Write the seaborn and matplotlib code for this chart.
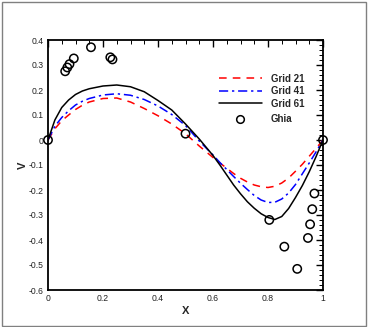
import numpy as np
import pandas as pd
import matplotlib
matplotlib.use("Agg")
import matplotlib.pyplot as plt
from matplotlib.ticker import MultipleLocator, FuncFormatter
from matplotlib.lines import Line2D
from matplotlib.patches import Rectangle
import seaborn as sns

# ---- data ----
x_grid = [0.0, 0.025, 0.05, 0.075, 0.1, 0.125, 0.15, 0.2, 0.25, 0.3, 0.35, 0.4, 0.45,
          0.5, 0.55, 0.6, 0.625, 0.65, 0.675, 0.7, 0.725, 0.75, 0.775, 0.8, 0.825,
          0.85, 0.875, 0.9, 0.925, 0.95, 0.975, 1.0]
v_grid21 = [0.0, 0.045, 0.077, 0.100, 0.122, 0.139, 0.152, 0.166, 0.168, 0.152, 0.126, 0.097,
            0.064, 0.025, -0.024, -0.070, -0.092, -0.113, -0.134, -0.153, -0.168, -0.180,
            -0.187, -0.190, -0.185, -0.172, -0.152, -0.125, -0.097, -0.065, -0.033, 0.0]
v_grid41 = [0.0, 0.055, 0.090, 0.117, 0.140, 0.155, 0.166, 0.180, 0.185, 0.179, 0.162, 0.136,
            0.102, 0.058, -0.004, -0.060, -0.090, -0.118, -0.146, -0.173, -0.198, -0.222,
            -0.240, -0.250, -0.249, -0.236, -0.212, -0.178, -0.135, -0.092, -0.047, 0.0]
v_grid61 = [0.0, 0.080, 0.130, 0.160, 0.182, 0.196, 0.205, 0.216, 0.220, 0.213, 0.193, 0.158,
            0.120, 0.064, 0.004, -0.062, -0.100, -0.140, -0.180, -0.215, -0.247, -0.273,
            -0.295, -0.310, -0.318, -0.306, -0.274, -0.230, -0.182, -0.127, -0.066, 0.0]

x_ghia = [0.0, 0.0625, 0.0703, 0.0781, 0.0938, 0.1563, 0.2266, 0.2344, 0.5,
          0.8047, 0.8594, 0.9063, 0.9453, 0.9531, 0.9609, 0.9688, 1.0]
v_ghia = [0.0, 0.27485, 0.29012, 0.30353, 0.32627, 0.37095, 0.33075, 0.32235, 0.02526,
          -0.31966, -0.42665, -0.51550, -0.39188, -0.33714, -0.27669, -0.21388, 0.0]

labels = ["Grid 21", "Grid 41", "Grid 61", "Ghia"]
x_ticks = [0, 0.2, 0.4, 0.6, 0.8, 1.0]
y_ticks = [-0.6, -0.5, -0.4, -0.3, -0.2, -0.1, 0, 0.1, 0.2, 0.3, 0.4]

# ---- style ----
sns.set_style("white")
plt.rcParams["font.family"] = ["Liberation Sans", "DejaVu Sans"]
plt.rcParams["axes.unicode_minus"] = False

fig = plt.figure(figsize=(3.68, 3.27), dpi=100)
fig.patch.set_facecolor("white")
ax = fig.add_axes([48 / 368, 1 - 290 / 327, 275 / 368, 250 / 327])

styles = [
    (v_grid21, "red", (0, (5, 4)), labels[0]),
    (v_grid41, "blue", (0, (6, 2.5, 1.5, 2.5)), labels[1]),
    (v_grid61, "black", "-", labels[2]),
]
for vals, col, ls, lab in styles:
    df = pd.DataFrame({"x": x_grid, "v": vals})
    sns.lineplot(data=df, x="x", y="v", ax=ax, color=col, linestyle=ls,
                 linewidth=1.1, sort=False, estimator=None, legend=False)

dg = pd.DataFrame({"x": x_ghia, "v": v_ghia})
sns.scatterplot(data=dg, x="x", y="v", ax=ax, marker="o", s=36,
                edgecolor="black", linewidth=1.1, legend=False, zorder=5, clip_on=False)
for coll in ax.collections:
    coll.set_facecolor("none")
    coll.set_edgecolor("black")

ax.set_xlim(0, 1)
ax.set_ylim(-0.6, 0.4)
ax.set_xticks(x_ticks)
ax.set_yticks(y_ticks)
ax.xaxis.set_minor_locator(MultipleLocator(0.05))
ax.yaxis.set_minor_locator(MultipleLocator(0.02))
fmt = FuncFormatter(lambda v, p: "%g" % round(v, 2))
ax.xaxis.set_major_formatter(fmt)
ax.yaxis.set_major_formatter(fmt)
ax.tick_params(which="both", direction="in", top=True, right=True, color="black",
               labelsize=6.2, labelcolor="#222222")
ax.tick_params(which="major", length=5, width=1.0, pad=3)
ax.tick_params(which="minor", length=2.8, width=0.7)
for s in ax.spines.values():
    s.set_linewidth(1.3)
    s.set_color("black")

ax.set_xlabel("X", fontsize=8, fontweight="bold", labelpad=2)
ax.set_ylabel("V", fontsize=8, fontweight="bold", labelpad=1)

h_lines = [Line2D([], [], color=c, linestyle=ls, linewidth=1.1) for _, c, ls, _ in styles]
leg1 = ax.legend(h_lines, labels[:3], loc="center left", bbox_to_anchor=(0.622, 0.795),
                 frameon=False, fontsize=7, handlelength=4.4, handletextpad=0.9,
                 labelspacing=0.25, borderpad=0, borderaxespad=0)
for t in leg1.get_texts():
    t.set_fontweight("bold")
ax.add_artist(leg1)
h_ghia = Line2D([], [], color="black", marker="o", linestyle="", markersize=5.5,
                markerfacecolor="none", markeredgewidth=1.1)
leg2 = ax.legend([h_ghia], labels[3:], loc="center left", bbox_to_anchor=(0.622, 0.683),
                 frameon=False, fontsize=7, handlelength=4.4, handletextpad=0.9,
                 borderpad=0, borderaxespad=0)
for t in leg2.get_texts():
    t.set_fontweight("bold")

fig.patches.append(Rectangle((2 / 368, 1 / 327), 364 / 368, 324 / 327,
                             transform=fig.transFigure, fill=False,
                             edgecolor="#808080", linewidth=1.0))

fig.savefig("out.png", dpi=100)
